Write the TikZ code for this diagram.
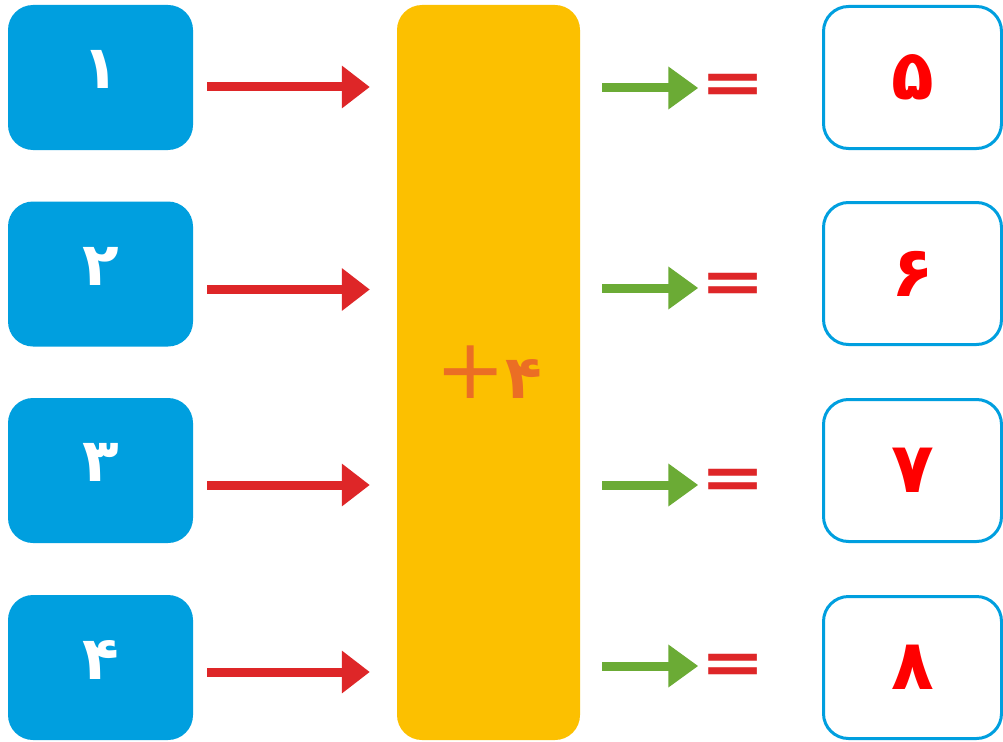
\documentclass[tikz,border=0pt]{standalone}
\usepackage{fontspec}
\usepackage{xcolor}
\usepackage{tikz}
\usetikzlibrary{positioning,arrows.meta}
\newfontfamily\farsi[Script=Arabic]{DejaVu Sans}
\newfontfamily\latinsans{DejaVu Sans}
\definecolor{BoxBlue}{HTML}{009FDF}
\definecolor{AddYellow}{HTML}{FCC000}
\definecolor{ArrowRed}{HTML}{DE2628}
\definecolor{ArrowGreen}{HTML}{6BAB35}
\definecolor{PlusOrange}{HTML}{EB6E24}
\definecolor{DigitRed}{HTML}{FF0000}

\begin{document}
\begin{tikzpicture}[x=1pt, y=-1pt,
                    inbox/.style={fill=BoxBlue, rounded corners=25pt, minimum width=185pt,
                                  minimum height=145pt, text=white, text depth=16pt,
                                  font={\farsi\bfseries\fontsize{60}{60}\selectfont}},
                    outbox/.style={draw=BoxBlue, line width=3pt, rounded corners=25pt, fill=white,
                                   minimum width=178pt, minimum height=142pt, text=DigitRed,
                                   font={\farsi\bfseries\fontsize{70}{70}\selectfont}},
                    addbox/.style={fill=AddYellow, rounded corners=25pt, minimum width=183pt,
                                   minimum height=735pt, text=PlusOrange,
                                   font={\farsi\bfseries\fontsize{60}{60}\selectfont}},
                    eqsign/.style={inner sep=0pt, text=ArrowRed,
                                   font={\latinsans\bfseries\fontsize{74}{74}\selectfont}},
                    redarrow/.style={draw=ArrowRed, line width=9pt, shorten <=14pt, shorten >=27pt,
                                     -{Triangle[length=28pt,width=41pt]}},
                    greenarrow/.style={draw=ArrowGreen, line width=9pt, shorten <=22pt, shorten >=2pt,
                                       -{Triangle[length=30pt,width=41pt]}}]
\useasboundingbox[fill=white] (0,0) rectangle (1003,741);
% inputs
\node[inbox] (in1) at (100.5,77.5) {۱};
\node[inbox] (in2) at (100.5,274) {۲};
\node[inbox] (in3) at (100.5,470.5) {۳};
\node[inbox] (in4) at (100.5,667.5) {۴};
% the rule
\node[addbox] (add) at (488.5,372.5) {{\latinsans\mdseries\fontsize{84}{84}\selectfont+}۴};
% equal signs and results
\node[eqsign] (eq1) at (733,89) {\scalebox{1.05}[0.82]{=}};
\node[eqsign] (eq2) at (733,288) {\scalebox{1.05}[0.82]{=}};
\node[eqsign] (eq3) at (733,484) {\scalebox{1.05}[0.82]{=}};
\node[eqsign] (eq4) at (733,669) {\scalebox{1.05}[0.82]{=}};
\node[outbox] (out1) at (912.5,77.5) {۵};
\node[outbox] (out2) at (912.5,273.5) {۶};
\node[outbox] (out3) at (912.5,470.5) {۷};
\node[outbox] (out4) at (912.5,667.5) {۸};
% arrows
\draw[redarrow] ([yshift=-9.5pt]in1.east) -- ([yshift=-9.5pt]in1.east -| add.west);
\draw[redarrow] ([yshift=-15.5pt]in2.east) -- ([yshift=-15.5pt]in2.east -| add.west);
\draw[redarrow] ([yshift=-14.5pt]in3.east) -- ([yshift=-14.5pt]in3.east -| add.west);
\draw[redarrow] ([yshift=-4.5pt]in4.east) -- ([yshift=-4.5pt]in4.east -| add.west);
\draw[greenarrow] ([yshift=1pt]add.east |- eq1) -- ([yshift=1pt]eq1.west);
\draw[greenarrow] (add.east |- eq2) -- (eq2.west);
\draw[greenarrow] ([yshift=-1pt]add.east |- eq3) -- ([yshift=-1pt]eq3.west);
\draw[greenarrow] ([yshift=3pt]add.east |- eq4) -- ([yshift=3pt]eq4.west);
\end{tikzpicture}
\end{document}
